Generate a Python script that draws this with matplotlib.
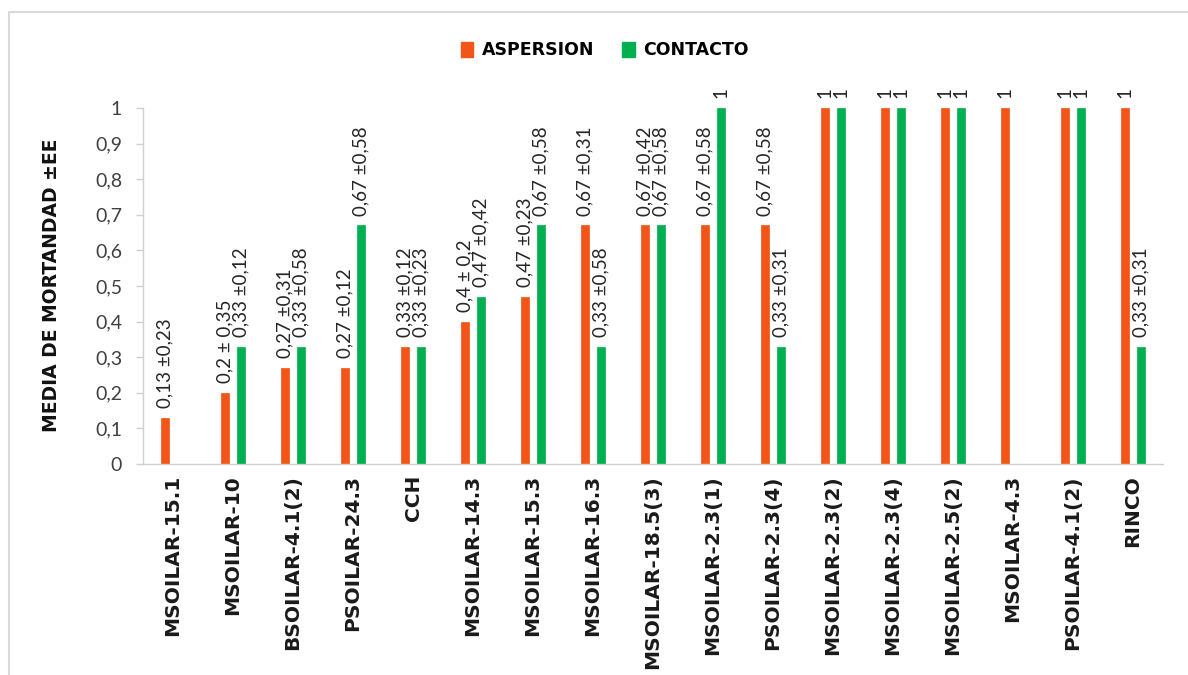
import matplotlib
matplotlib.use("Agg")
import matplotlib.pyplot as plt
import numpy as np
from matplotlib.patches import Rectangle, Patch
from matplotlib.ticker import FixedLocator, FixedFormatter

plt.rcParams['font.family'] = ['Lato', 'DejaVu Sans']

categories = ["MSOILAR-15.1", "MSOILAR-10", "BSOILAR-4.1(2)", "PSOILAR-24.3", "CCH",
              "MSOILAR-14.3", "MSOILAR-15.3", "MSOILAR-16.3", "MSOILAR-18.5(3)",
              "MSOILAR-2.3(1)", "PSOILAR-2.3(4)", "MSOILAR-2.3(2)", "MSOILAR-2.3(4)",
              "MSOILAR-2.5(2)", "MSOILAR-4.3", "PSOILAR-4.1(2)", "RINCO"]

aspersion = [0.13, 0.2, 0.27, 0.27, 0.33, 0.4, 0.47, 0.67, 0.67, 0.67, 0.67,
             1, 1, 1, 1, 1, 1]
contacto = [0, 0.33, 0.33, 0.67, 0.33, 0.47, 0.67, 0.33, 0.67, 1, 0.33,
            1, 1, 1, 0, 1, 0.33]

aspersion_labels = ["0,13 ±0,23", "0,2 ± 0,35", "0,27 ±0,31", "0,27 ±0,12", "0,33 ±0,12",
                    "0,4 ± 0,2", "0,47 ±0,23", "0,67 ±0,31", "0,67 ±0,42", "0,67 ±0,58",
                    "0,67 ±0,58", "1", "1", "1", "1", "1", "1"]
contacto_labels = ["", "0,33 ±0,12", "0,33 ±0,58", "0,67 ±0,58", "0,33 ±0,23",
                   "0,47 ±0,42", "0,67 ±0,58", "0,33 ±0,58", "0,67 ±0,58", "1",
                   "0,33 ±0,31", "1", "1", "1", "", "1", "0,33 ±0,31"]

yticks = [0, 0.1, 0.2, 0.3, 0.4, 0.5, 0.6, 0.7, 0.8, 0.9, 1]
ytick_labels = ["0", "0,1", "0,2", "0,3", "0,4", "0,5", "0,6", "0,7", "0,8", "0,9", "1"]

series_names = ["ASPERSION", "CONTACTO"]
colors = ["#F25517", "#00B050"]

W, H = 1188, 675
fig = plt.figure(figsize=(W / 100, H / 100), dpi=100)
ax = fig.add_axes([143 / W, 1 - 464 / H, (1163 - 143) / W, (464 - 108) / H])

x = np.arange(len(categories))
bw = 0.145
off = 0.135
series = [aspersion, contacto]
labels = [aspersion_labels, contacto_labels]
for i, (vals, labs) in enumerate(zip(series, labels)):
    xs = x + (-off if i == 0 else off)
    ax.bar(xs, vals, width=bw, color=colors[i], edgecolor=colors[i], linewidth=0.5)
    for xi, v, lab in zip(xs, vals, labs):
        if lab:
            ax.annotate(lab, (xi, v), xytext=(0, 7), textcoords="offset points",
                        rotation=90, ha="center", va="bottom", fontsize=13.5,
                        color="#262626")

ax.set_xlim(-0.5, len(categories) - 0.5)
ax.set_ylim(0, 1)
ax.yaxis.set_major_locator(FixedLocator(yticks))
ax.yaxis.set_major_formatter(FixedFormatter(ytick_labels))
ax.set_xticks(x)
ax.set_xticklabels(categories, rotation=90, fontsize=14.5, fontweight="bold",
                   color="#1a1a1a", family=["DejaVu Sans"])
ax.tick_params(axis="x", length=0, pad=8)
ax.tick_params(axis="y", length=5, width=1, color="#d0d0d0", labelsize=14,
               labelcolor="#404040", pad=10)
for s in ["top", "right"]:
    ax.spines[s].set_visible(False)
for s in ["left", "bottom"]:
    ax.spines[s].set_color("#d0d0d0")
    ax.spines[s].set_linewidth(1)

fig.text(52 / W, 1 - 285 / H, "MEDIA DE MORTANDAD ±EE", rotation=90,
         ha="center", va="center", fontsize=13.5, fontweight="bold", color="#111111",
         family=["DejaVu Sans"])

handles = [Patch(facecolor=c, edgecolor=c) for c in colors]
fig.legend(handles, series_names, loc="center", bbox_to_anchor=(605 / W, 1 - 50 / H),
           ncol=2, frameon=False, handlelength=0.7, handleheight=0.95,
           handletextpad=0.5, columnspacing=1.6,
           prop={"size": 12.5, "weight": "bold", "family": ["DejaVu Sans"]})

fig.patches.append(Rectangle((9 / W, -0.1), 1.2, (H - 12) / H + 0.1,
                             transform=fig.transFigure, facecolor="none",
                             edgecolor="#d9d9d9", linewidth=1.5))

fig.savefig("out.png", dpi=100, facecolor="white")
